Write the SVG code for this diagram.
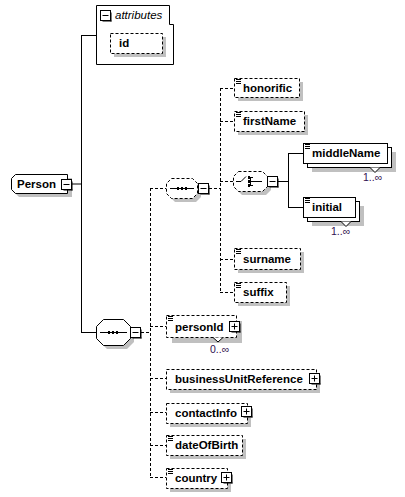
<svg xmlns="http://www.w3.org/2000/svg" width="405" height="497" viewBox="0 0 405 497">
<style>
.t{font-family:"Liberation Sans",Arial,sans-serif;font-size:11.5px;font-weight:bold;fill:#000}
.i{font-family:"Liberation Sans",Arial,sans-serif;font-size:11.5px;font-style:italic;fill:#000}
.o{font-family:"Liberation Sans",Arial,sans-serif;font-size:10.5px;fill:#301050}
.b{fill:#fff;stroke:#000;stroke-width:1}
.d{fill:#fff;stroke:#000;stroke-width:1;stroke-dasharray:3,2}
.s{fill:#c0c0c0;stroke:none}
.c{fill:none;stroke:#000;stroke-width:1}
.cd{fill:none;stroke:#000;stroke-width:1;stroke-dasharray:3,2}
.ic{stroke:#000;stroke-width:1;fill:none}
</style>
<defs>
<g id="lines"><path d="M0,0.5H5M0,2.5H5M0,4.5H5" class="ic"/></g>
<g id="minus"><rect x="0.5" y="0.5" width="10" height="10" fill="#fff" stroke="#000"/><rect x="2.5" y="10.5" width="9" height="1" fill="#000"/><rect x="10.5" y="2.5" width="1" height="9" fill="#000"/><path d="M2.5,5.5H8.5" stroke="#000"/></g>
<g id="plus"><rect x="0.5" y="0.5" width="10" height="10" fill="#fff" stroke="#000"/><rect x="2.5" y="10.5" width="9" height="1" fill="#000"/><rect x="10.5" y="2.5" width="1" height="9" fill="#000"/><path d="M2.5,5.5H8.5M5.5,2.5V8.5" stroke="#000"/></g>
</defs>

<g id="connectors">
<path class="c" d="M72,184H81M81.5,35V332M81,35.5H96M81,332.5H96"/>
<path class="cd" d="M209,188.5H220M220.5,88V292M220,88.5H234M220,121.5H234M220,181.5H233M220,259.5H234M220,292.5H234"/>
<path class="c" d="M278,181.5H288M288.5,153V207M288,153.5H303M288,207.5H303"/>
<path class="cd" d="M141,332.5H150M150.5,188V477M150,188.5H166M150,326.5H166M150,378.5H166M150,412.5H166M150,445.5H166M150,477.5H166"/>
</g>

<g id="attributes">
<path class="b" d="M96.5,5.5H169.5V24.5H173.5V64.5H96.5Z"/>
<use href="#minus" x="100" y="10"/>
<text class="i" x="115" y="19">attributes</text>
<rect class="s" x="114" y="37" width="52" height="20"/>
<rect class="d" x="110.5" y="33.5" width="52" height="20"/>
<text class="t" x="119" y="47">id</text>
</g>

<g id="Person">
<path class="s" d="M19,178H72V197H19L15,193V182Z"/>
<path class="b" d="M15.5,174.5H67.5V193.5H15.5L11.5,189.5V178.5Z"/>
<text class="t" x="17" y="188">Person</text>
<use href="#minus" x="61" y="179"/>
</g>

<g id="sequence1">
<path class="s" d="M175,182H196L201,187V197L196,202H175L170,197V187Z"/>
<path class="d" d="M171.5,178.5H192.5L197.5,183.5V193.5L192.5,198.5H171.5L166.5,193.5V183.5Z"/>
<path class="ic" d="M170,188.5H194"/>
<rect x="177" y="187" width="2" height="3" fill="#000"/><rect x="181" y="187" width="2" height="3" fill="#000"/><rect x="185" y="187" width="2" height="3" fill="#000"/>
<use href="#minus" x="198" y="183"/>
</g>

<g id="honorific">
<rect class="s" x="238" y="82" width="65" height="19"/>
<rect class="d" x="234.5" y="78.5" width="65" height="19"/>
<use href="#lines" x="236" y="79"/>
<text class="t" x="243" y="92">honorific</text>
</g>

<g id="firstName">
<rect class="s" x="238" y="115" width="70" height="20"/>
<rect class="d" x="234.5" y="111.5" width="70" height="20"/>
<use href="#lines" x="236" y="112"/>
<text class="t" x="243" y="125">firstName</text>
</g>

<g id="choice">
<path class="s" d="M242,175H266L271,180V190L266,195H242L237,190V180Z"/>
<path class="d" d="M238.5,171.5H262.5L267.5,176.5V186.5L262.5,191.5H238.5L233.5,186.5V176.5Z"/>
<path class="ic" d="M236,181.5H241L246,176.5M250.5,177V186M250,177.5H253M250,181.5H256M250,185.5H253M256,181.5H262"/>
<rect x="248" y="176" width="2" height="3" fill="#000"/><rect x="248" y="180" width="2" height="3" fill="#000"/><rect x="248" y="184" width="2" height="3" fill="#000"/>
<use href="#minus" x="267" y="176"/>
</g>

<g id="middleName">
<rect class="s" x="312" y="152" width="84" height="20"/>
<rect class="b" x="307.5" y="147.5" width="84" height="20"/>
<rect class="b" x="303.5" y="143.5" width="84" height="20"/>
<use href="#lines" x="305" y="144"/>
<text class="t" x="312" y="157">middleName</text>
<path class="b" d="M370,167.5L375,172.5L380,167.5"/>
<text class="o" x="363" y="181">1..∞</text>
</g>

<g id="initial">
<rect class="s" x="312" y="206" width="52" height="20"/>
<rect class="b" x="307.5" y="201.5" width="52" height="20"/>
<rect class="b" x="303.5" y="197.5" width="52" height="20"/>
<use href="#lines" x="305" y="198"/>
<text class="t" x="312" y="211">initial</text>
<path class="b" d="M341,221.5L346,226.5L351,221.5"/>
<text class="o" x="331" y="235">1..∞</text>
</g>

<g id="surname">
<rect class="s" x="238" y="252" width="66" height="21"/>
<rect class="d" x="234.5" y="248.5" width="66" height="21"/>
<use href="#lines" x="236" y="249"/>
<text class="t" x="243" y="263">surname</text>
</g>

<g id="suffix">
<rect class="s" x="238" y="286" width="52" height="20"/>
<rect class="d" x="234.5" y="282.5" width="52" height="20"/>
<use href="#lines" x="236" y="283"/>
<text class="t" x="243" y="296">suffix</text>
</g>

<g id="sequence2">
<path class="s" d="M107,323H127L134,330V342L127,349H107L100,342V330Z"/>
<path class="b" d="M103.5,319.5H123.5L130.5,326.5V338.5L123.5,345.5H103.5L96.5,338.5V326.5Z"/>
<path class="ic" d="M100,332.5H127"/>
<rect x="108" y="331" width="2" height="3" fill="#000"/><rect x="112" y="331" width="2" height="3" fill="#000"/><rect x="116" y="331" width="2" height="3" fill="#000"/>
<use href="#minus" x="130" y="327"/>
</g>

<g id="personId">
<rect class="s" x="172" y="321" width="70" height="22"/>
<rect class="d" x="166.5" y="315.5" width="70" height="22"/>
<use href="#lines" x="168" y="316"/>
<text class="t" x="175" y="331">personId</text>
<use href="#plus" x="229" y="321"/>
<path class="b" d="M213,337.5L218,342L223,337.5"/>
<text class="o" x="210" y="353">0..∞</text>
</g>

<g id="businessUnitReference">
<rect class="s" x="170" y="373" width="150" height="20"/>
<rect class="d" x="166.5" y="369.5" width="150" height="20"/>
<text class="t" x="175" y="383">businessUnitReference</text>
<use href="#plus" x="309" y="373"/>
</g>

<g id="contactInfo">
<rect class="s" x="170" y="407" width="81" height="20"/>
<rect class="d" x="166.5" y="403.5" width="81" height="20"/>
<text class="t" x="175" y="417">contactInfo</text>
<use href="#plus" x="241" y="406"/>
</g>

<g id="dateOfBirth">
<rect class="s" x="170" y="439" width="76" height="20"/>
<rect class="d" x="166.5" y="435.5" width="76" height="20"/>
<use href="#lines" x="168" y="436"/>
<text class="t" x="175" y="449">dateOfBirth</text>
</g>

<g id="country">
<rect class="s" x="170" y="472" width="61" height="20"/>
<rect class="d" x="166.5" y="468.5" width="61" height="20"/>
<use href="#lines" x="168" y="469"/>
<text class="t" x="175" y="482">country</text>
<use href="#plus" x="221" y="472"/>
</g>
</svg>
